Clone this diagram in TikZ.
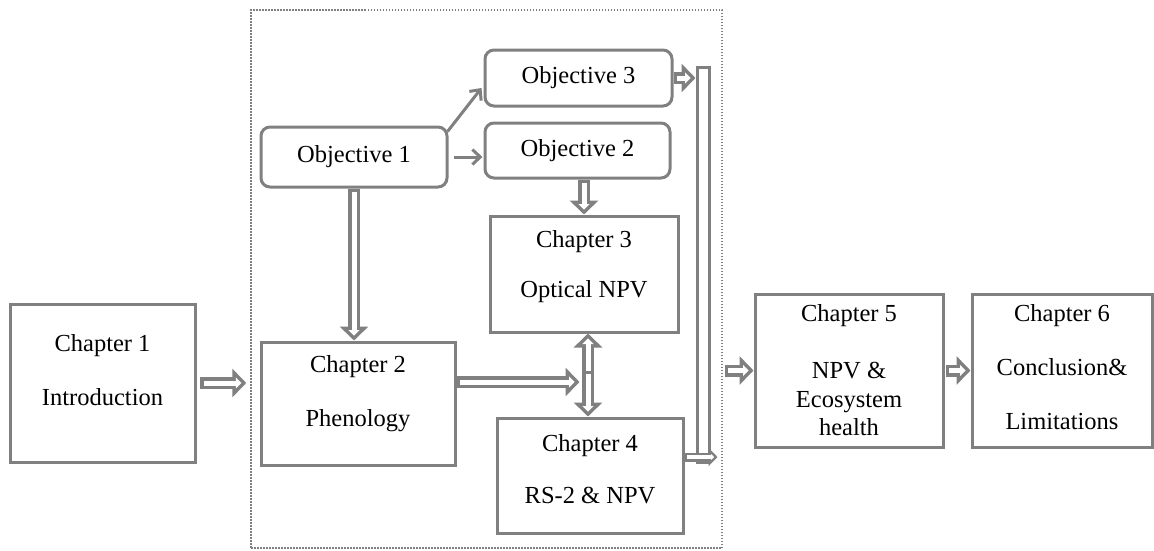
\documentclass[tikz,border=0pt]{standalone}
\usepackage{fontspec}
\setmainfont{Liberation Serif}
\usetikzlibrary{arrows.meta,calc}
\definecolor{ac}{RGB}{128,128,128}
\begin{document}
\begin{tikzpicture}[x=1pt,y=-1pt,
  box/.style={draw=ac, line width=3pt, fill=white, inner sep=0pt},
  rbox/.style={box, rounded corners=9pt},
  txt/.style={font=\fontsize{24.5}{28.5}\selectfont, align=center, inner sep=0pt, text=black},
  dotframe/.style={draw=ac, line width=1.5pt, dash pattern=on 1.5pt off 1.5pt, inner sep=0pt},
  barrow/.style={draw=white, line width=5pt, shorten <=3.5pt, shorten >=4.95pt,
    -{Triangle[length=5.55pt,width=11.1pt]},
    preaction={draw=ac, line width=12pt, shorten <=0pt, shorten >=0pt,
      -{Triangle[length=14pt,width=28pt]}}},
  sbarrow/.style={draw=white, line width=4pt, shorten <=2.5pt, shorten >=3.5pt,
    -{Triangle[length=3pt,width=6pt]},
    preaction={draw=ac, line width=9pt, shorten <=0pt, shorten >=0pt,
      -{Triangle[length=9pt,width=18pt]}}},
  sarrow/.style={draw=ac, line width=3pt, -{Straight Barb[length=8pt,width=15pt]}}
]
\useasboundingbox (0,0) rectangle (1154,550);

% dotted frame
\node[dotframe, minimum width=471pt, minimum height=538pt] (frame) at (486.5,279) {};

% boxes
\node[box, minimum width=185pt, minimum height=158pt,
  label={[txt,yshift=13pt]center:Chapter 1\\[25.5pt]Introduction}] (ch1) at (102.5,383) {};
\node[box, minimum width=194pt, minimum height=123pt,
  label={[txt,yshift=9.5pt]center:Chapter 2\\[25.5pt]Phenology}] (ch2) at (358,403.5) {};
\node[box, minimum width=188pt, minimum height=116pt,
  label={[txt,yshift=7pt]center:Chapter 3\\[21.5pt]Optical NPV}] (ch3) at (584,274) {};
\node[box, minimum width=186pt, minimum height=115pt,
  label={[txt,yshift=6.5pt]center:Chapter 4\\[23.5pt]RS-2 \& NPV}] (ch4) at (590,475.5) {};
\node[box, minimum width=188pt, minimum height=153pt,
  label={[txt]center:Chapter 5\\[28.5pt]NPV \&\\Ecosystem\\health}] (ch5) at (849,370.5) {};
\node[box, minimum width=180pt, minimum height=153pt,
  label={[txt,yshift=3.5pt]center:Chapter 6\\[25.5pt]Conclusion\&\\[25.5pt]Limitations}] (ch6) at (1062,370.5) {};

\node[rbox, minimum width=186pt, minimum height=60pt, label={[txt]center:Objective 1}] (obj1) at (354,157) {};
\node[rbox, minimum width=185pt, minimum height=55pt, label={[txt]center:Objective 2}] (obj2) at (577.5,150.5) {};
\node[rbox, minimum width=187pt, minimum height=56pt, label={[txt]center:Objective 3}] (obj3) at (578.5,78) {};

% collecting bar
\node[box, minimum width=12pt, minimum height=395pt] (bar) at (703,264.5) {};

% junction between chapter 3 and chapter 4
\coordinate (j) at (588,372);

% connectors
\draw[barrow] ([xshift=3.5pt]ch1.east) -- ([xshift=-4pt]frame.west |- ch1.east);
\draw[barrow] (obj1.south) -- (obj1.south |- ch2.north);
\draw[sarrow, shorten <=5pt, shorten >=1pt] (obj1.east) -- (obj2.west |- obj1.east);
\draw[sarrow] ([shift={(-1,6)}]obj1.north east) -- ([shift={(-2,10)}]obj3.west);
\draw[barrow] (ch3.north |- obj2.south) -- (ch3.north);
\draw[barrow] (obj3.east) -- (bar.west |- obj3.east);
\draw[barrow] ([yshift=21.5pt]ch2.east) -- ++(123,0);
\draw[barrow, shorten <=1.5pt] (j) -- (j |- ch3.south);
\draw[barrow, shorten <=1.5pt] (j) -- (j |- ch4.north);
\draw[sbarrow] ([yshift=18.5pt]ch4.east) -- ++(33,0);
\draw[barrow] ([xshift=2pt]frame.east |- ch5.west) -- (ch5.west);
\draw[barrow] ([xshift=1pt]ch5.east) -- (ch6.west);
\end{tikzpicture}
\end{document}
